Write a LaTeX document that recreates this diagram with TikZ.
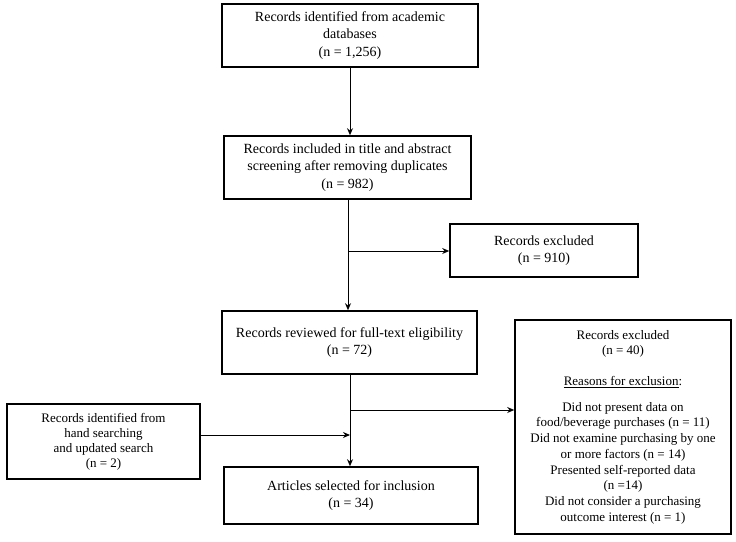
\documentclass[tikz,border=0pt]{standalone}
\usepackage{fontspec}
\setmainfont{Liberation Serif}
\usetikzlibrary{arrows.meta}
\begin{document}
\begin{tikzpicture}[x=1pt,y=-1pt,
  box/.style={draw,line width=1.6pt,align=center,inner sep=2pt,
    font=\fontsize{14}{17.5}\selectfont},
  conn/.style={line width=0.9pt},
  arr/.style={conn,-{Stealth[length=7pt,width=6pt]}}]
\useasboundingbox (0,0) rectangle (736,541);
\node[box,minimum width=256pt,minimum height=63pt] (b1) at (350,35.5)
  {Records identified from academic\\databases\\(n = 1,256)};
\node[box,minimum width=247pt,minimum height=63pt] (b2) at (347.5,167.5)
  {Records included in title and abstract\\screening after removing duplicates\\(n = 982)};
\node[box,minimum width=188pt,minimum height=53pt] (e1) at (544,250.5)
  {Records excluded\\(n = 910)};
\node[box,minimum width=255pt,minimum height=63pt] (b3) at (349.5,342.5)
  {Records reviewed for full-text eligibility\\(n = 72)};
\node[box,minimum width=216pt,minimum height=214pt,font=\fontsize{13}{15.7}\selectfont] (e2) at (623,427)
  {Records excluded\\(n = 40)\\[15pt]\underline{Reasons for exclusion}:\\[10pt]
   Did not present data on\\food/beverage purchases (n = 11)\\Did not examine purchasing by one\\or more factors (n = 14)\\
   Presented self-reported data\\(n =14)\\Did not consider a purchasing\\outcome interest (n = 1)};
\node[box,minimum width=193pt,minimum height=75pt,font=\fontsize{13}{15}\selectfont] (h) at (103.5,441.5)
  {Records identified from\\hand searching\\and updated search\\(n = 2)};
\node[box,minimum width=254pt,minimum height=57pt] (f) at (351,495.5)
  {Articles selected for inclusion\\(n = 34)};
\coordinate (j1) at (348,251);
\coordinate (j2) at (350,410);
\coordinate (j3) at (350,435);
\draw[arr] (b1.south) -- (b1.south |- b2.north);
\draw[arr] (b2.south -| j1) -- (j1 |- b3.north);
\draw[arr] (j1) -- (e1.west |- j1);
\draw[arr] (b3.south -| j2) -- (j2 |- f.north);
\draw[arr] (j2) -- (e2.west |- j2);
\draw[arr] (h.east |- j3) -- (j3);
\end{tikzpicture}
\end{document}
